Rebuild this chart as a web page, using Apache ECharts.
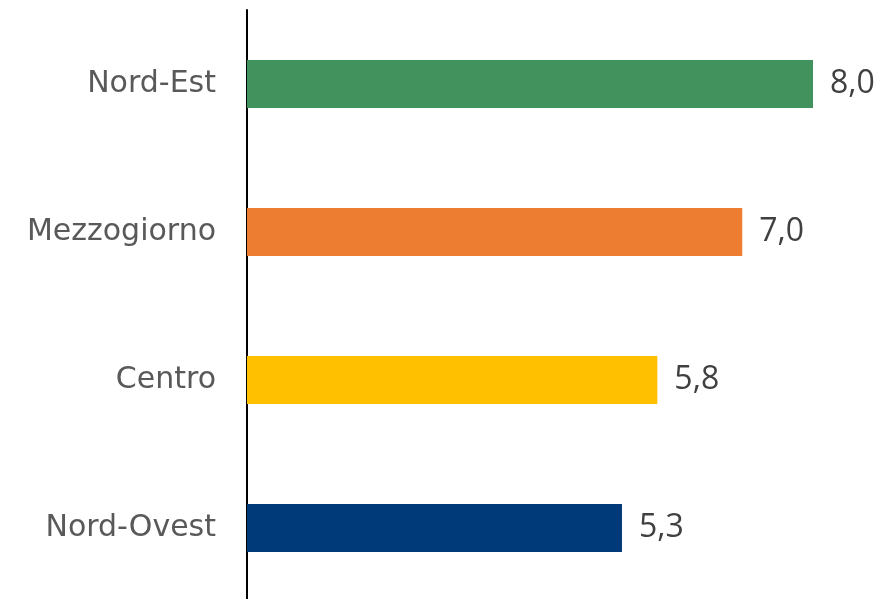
<!DOCTYPE html>
<html><head><meta charset="utf-8">
<script src="https://cdn.jsdelivr.net/npm/echarts@6/dist/echarts.min.js"></script>
<style>html,body{margin:0;padding:0;background:#fff;overflow:hidden}#c{width:881px;height:612px}</style>
</head><body><div id="c"></div>
<script>
const categories = ['Nord-Est', 'Mezzogiorno', 'Centro', 'Nord-Ovest'];
const values = [8.0, 7.0, 5.8, 5.3];
const colors = ['#41925D', '#ED7D31', '#FFC000', '#003A78'];

const chart = echarts.init(document.getElementById('c'));
chart.setOption({
  animation: false,
  grid: { left: 247, right: 68, top: 10, height: 592 },
  xAxis: { type: 'value', min: 0, max: 8, show: false },
  yAxis: {
    type: 'category', data: categories, inverse: true,
    axisLine: { show: true, lineStyle: { color: '#000', width: 2 } },
    axisTick: { show: false },
    axisLabel: { fontFamily: 'DejaVu Sans', fontSize: 30, color: '#595959', margin: 31 }
  },
  series: [{
    type: 'bar', barWidth: 48,
    data: values.map((v, i) => ({ value: v, itemStyle: { color: colors[i] } })),
    label: {
      show: true, position: 'right', distance: 17,
      fontFamily: 'Open Sans', fontSize: 32, color: '#404040',
      formatter: p => p.value.toFixed(1).replace('.', ',')
    }
  }]
});
</script></body></html>
